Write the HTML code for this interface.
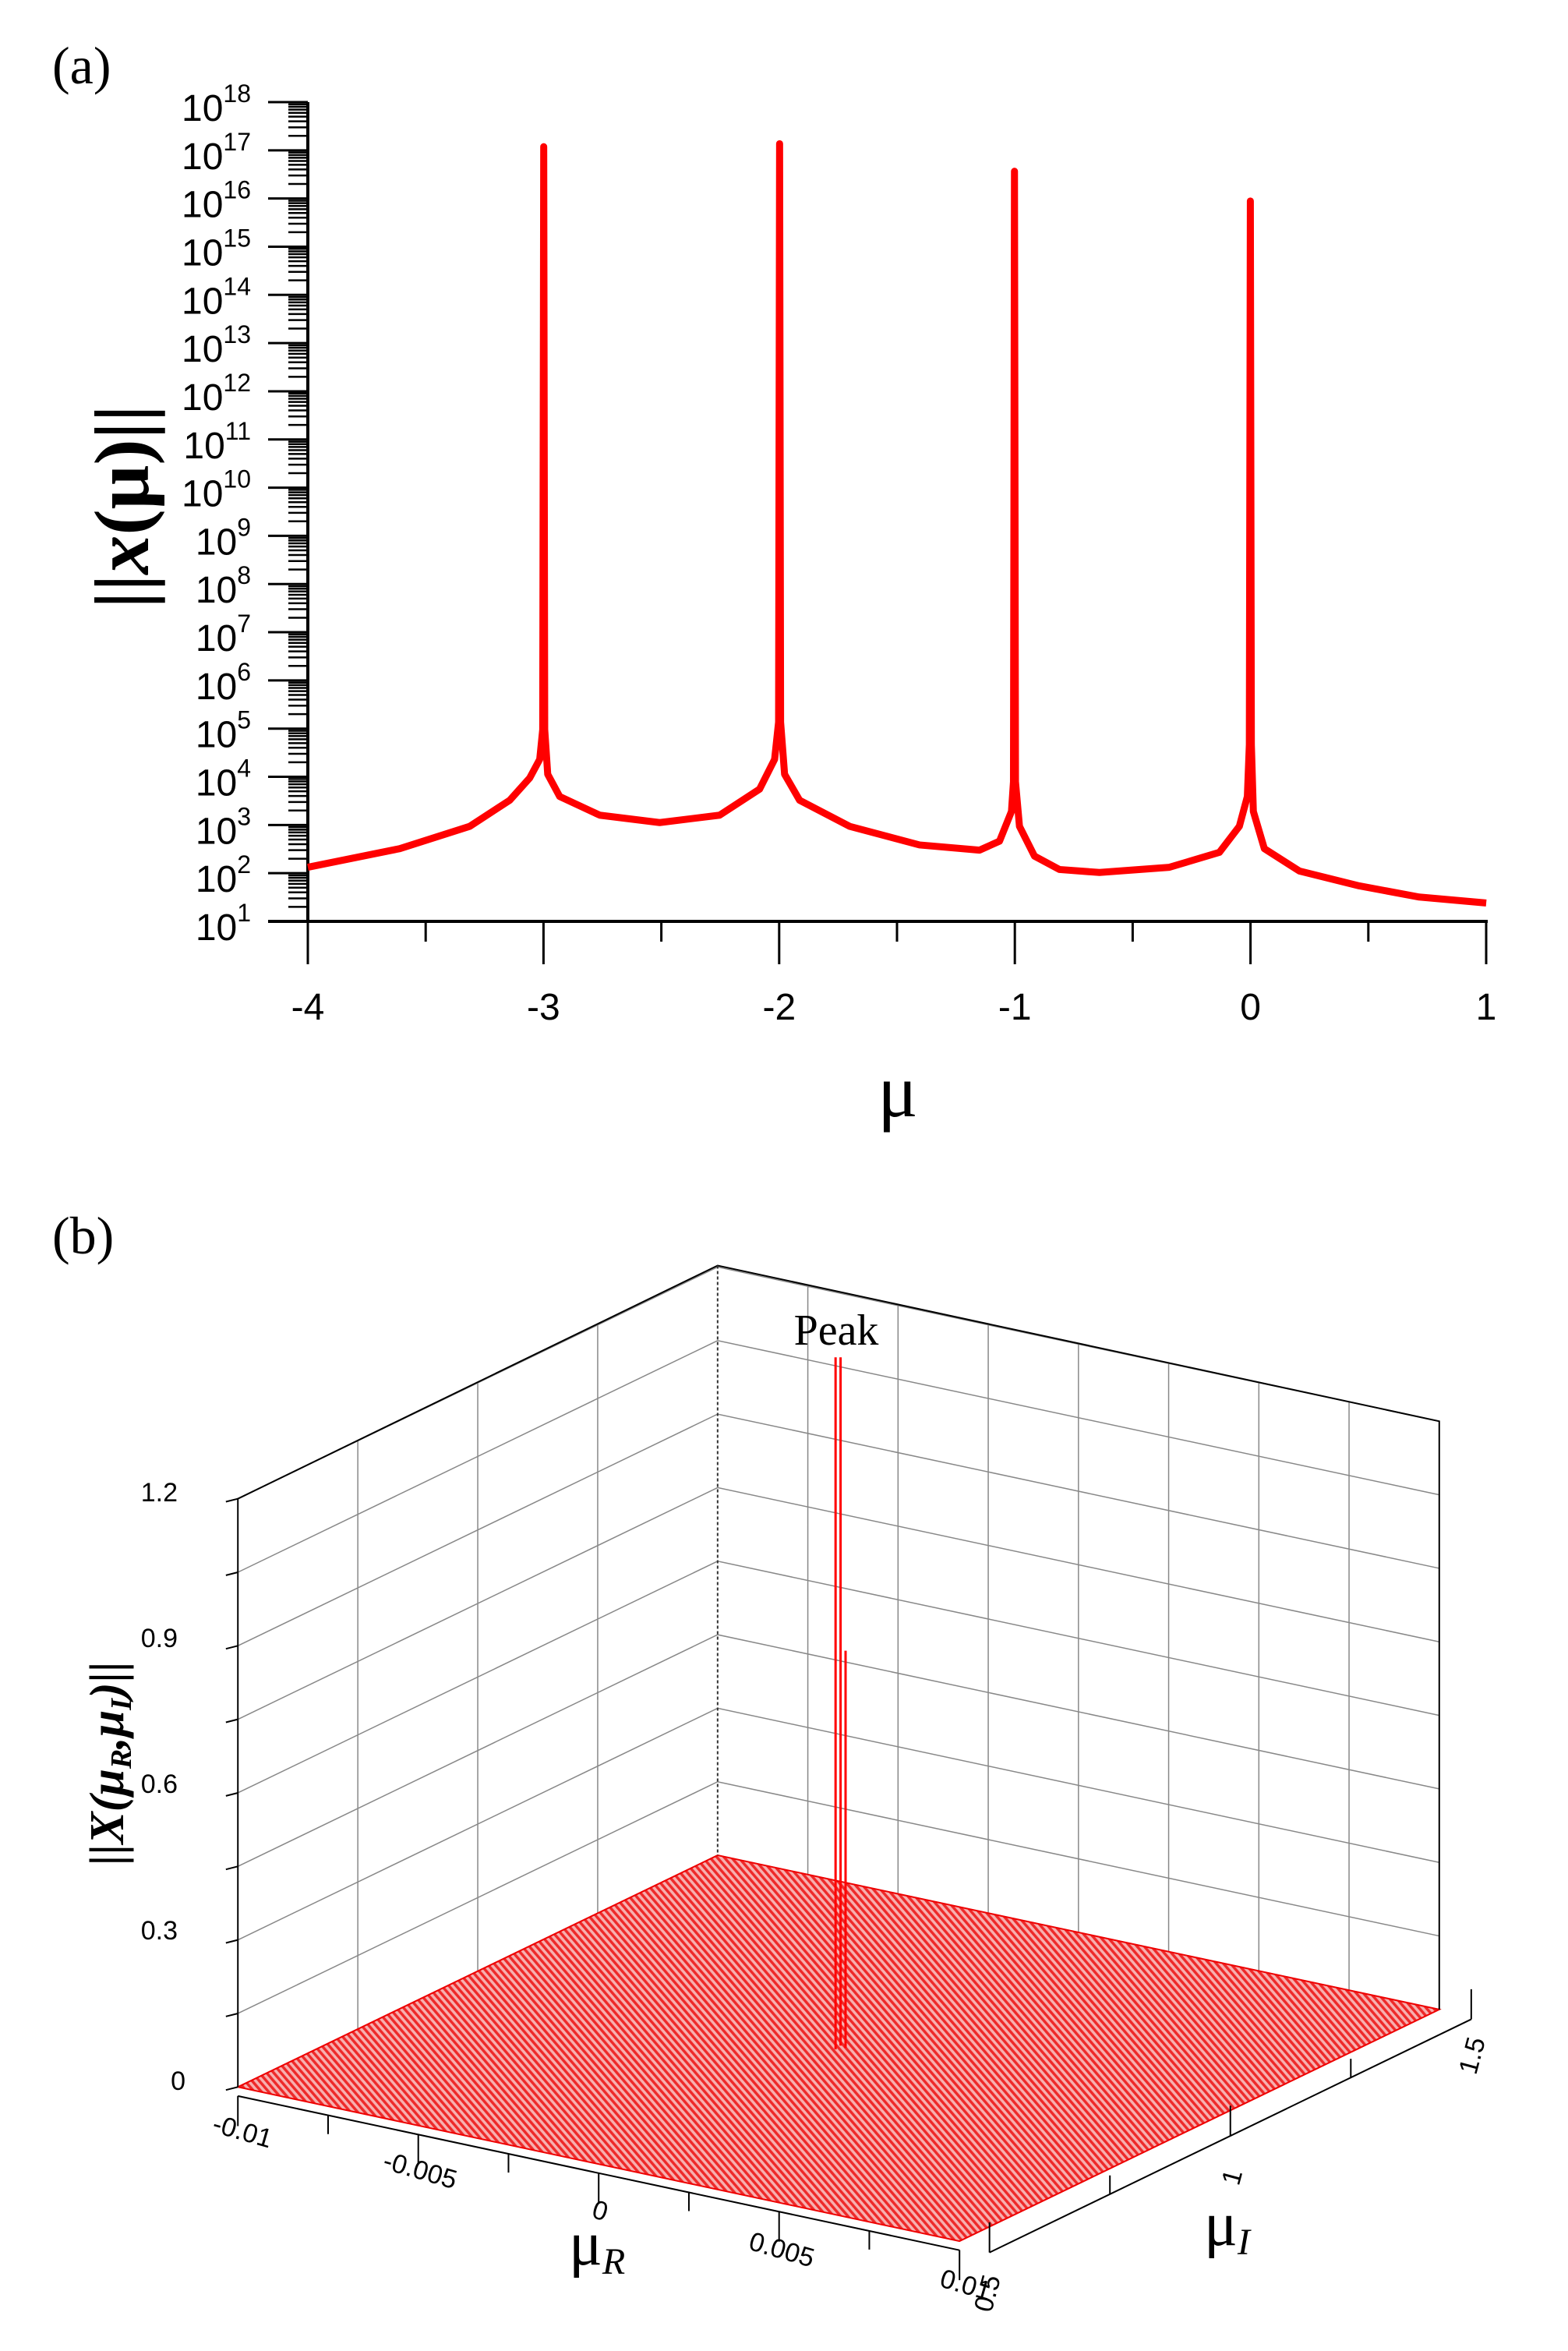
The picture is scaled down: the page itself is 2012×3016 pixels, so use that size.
<!DOCTYPE html>
<html><head><meta charset="utf-8"><style>
html,body{margin:0;padding:0;background:#fff;}
svg{display:block;}
text{font-family:"Liberation Sans",Arial,sans-serif;}
.serif{font-family:"Liberation Serif","Times New Roman",serif;}
</style></head><body>
<svg id="s" width="2012" height="3016" viewBox="0 0 2012 3016" xmlns="http://www.w3.org/2000/svg">
<defs>
<pattern id="mesh" width="6" height="6" patternUnits="userSpaceOnUse" patternTransform="rotate(-33)">
<rect width="6" height="6" fill="#f7b0b0"/>
<rect width="3" height="6" fill="#ee2a2a"/>
</pattern>
</defs>
<!-- Panel a -->
<text x="67" y="107" class="serif" font-size="68">(a)</text>
<g id="axa" stroke="#000" stroke-width="4" fill="none">
<line x1="395" y1="131" x2="395" y2="1184"/>
<line x1="344" y1="1182" x2="1909" y2="1182"/>
</g>
<g id="ticksa" stroke="#000" stroke-width="3" fill="none"></g>
<g id="labsa" font-size="48" fill="#000"></g>
<text transform="translate(190,650) rotate(-90)" text-anchor="middle" class="serif" font-size="100" font-weight="bold">||<tspan font-style="italic">x</tspan>(μ)||</text>
<text x="1152" y="1432" text-anchor="middle" class="serif" font-size="96">μ</text>
<g transform="scale(1.2825,0.955)">
<path fill="none" stroke="#ff0000" stroke-width="9" vector-effect="non-scaling-stroke" stroke-linejoin="round"
d="M308,1165 L400,1140 L470,1110 L510,1075 L530,1045 L540,1020 L543,980 L544,197 L545,980 L548,1040 L560,1070 L600,1095 L660,1105 L720,1095 L760,1060 L775,1020 L779,970 L780,193 L781,970 L785,1040 L800,1075 L850,1110 L920,1135 L980,1142 L1000,1130 L1012,1090 L1014,1050 L1015,230 L1016,1050 L1020,1110 L1035,1150 L1060,1168 L1100,1172 L1170,1165 L1220,1145 L1240,1110 L1248,1070 L1250,1000 L1251,270 L1252,1000 L1254,1090 L1265,1140 L1300,1170 L1360,1190 L1420,1205 L1487,1213"/>
</g>
<!-- Panel b -->
<text x="67" y="1608" class="serif" font-size="68">(b)</text>
<g transform="translate(0,1500) scale(1.2825,0.965)">
<g id="grid" stroke="#888" stroke-width="1.5" fill="none"></g>
<polygon points="238,1220 718,912 1440,1117 960,1425" fill="url(#mesh)" stroke="#e00" stroke-width="2" vector-effect="non-scaling-stroke"/>
<g stroke="#000" stroke-width="2" fill="none">
<path vector-effect="non-scaling-stroke" d="M238,1220 L238,438 L718,128 L1440,335 L1440,1117"/>
<path vector-effect="non-scaling-stroke" d="M718,128 L718,912" stroke="#333" stroke-dasharray="4,3"/>
<path vector-effect="non-scaling-stroke" d="M238,1232 L960,1437 M990,1440 L1472,1130"/>
<path id="tkb" vector-effect="non-scaling-stroke" d=""/>
</g>
<path vector-effect="non-scaling-stroke" d="M836,250 L836,1170 M841,250 L841,1165 M846,640 L846,1168" stroke="#ff0000" stroke-width="3" fill="none"/>
</g>
<g font-size="34" fill="#000">
<text x="228" y="1926" text-anchor="end">1.2</text>
<text x="228" y="2113" text-anchor="end">0.9</text>
<text x="228" y="2300" text-anchor="end">0.6</text>
<text x="228" y="2488" text-anchor="end">0.3</text>
<text x="238" y="2681" text-anchor="end">0</text>
<text transform="translate(308,2745) rotate(16)" text-anchor="middle">-0.01</text>
<text transform="translate(536,2795) rotate(16)" text-anchor="middle">-0.005</text>
<text transform="translate(767,2847) rotate(16)" text-anchor="middle">0</text>
<text transform="translate(1000,2897) rotate(16)" text-anchor="middle">0.005</text>
<text transform="translate(1236,2942) rotate(16)" text-anchor="middle">0.01</text>
<text transform="translate(1900,2640) rotate(-75)" text-anchor="middle">1.5</text>
<text transform="translate(1592,2796) rotate(-75)" text-anchor="middle">1</text>
<text transform="translate(1278,2945) rotate(-75)" text-anchor="middle">0.5</text>
</g>
<text x="1073" y="1725" text-anchor="middle" class="serif" font-size="56">Peak</text>
<text x="730" y="2905" class="serif" font-size="80">μ<tspan font-size="48" font-style="italic" dy="12">R</tspan></text>
<text x="1545" y="2880" class="serif" font-size="80">μ<tspan font-size="48" font-style="italic" dy="12">I</tspan></text>
<text transform="translate(158,2262) rotate(-90)" text-anchor="middle" class="serif" font-size="62" font-weight="bold" font-style="italic">||X(μ<tspan font-size="38" dy="10">R</tspan><tspan dy="-10">,μ</tspan><tspan font-size="38" dy="10">I</tspan><tspan dy="-10">)||</tspan></text>
</svg>
<script>
(function(){
var NS="http://www.w3.org/2000/svg";
function el(p,t,a,txt){var e=document.createElementNS(NS,t);for(var k in a)e.setAttribute(k,a[k]);if(txt!==undefined)e.textContent=txt;p.appendChild(e);return e;}
var tk=document.getElementById('ticksa'),lb=document.getElementById('labsa');
var yTop=131,yBot=1182,dec=(yBot-yTop)/17;
for(var d=1;d<=18;d++){var y=yBot-(d-1)*dec;
 el(tk,'line',{x1:344,y1:y,x2:395,y2:y});
 var t=el(lb,'text',{x:322,y:y+24,'text-anchor':'end'});
 el(t,'tspan',{},'10');
 el(t,'tspan',{'font-size':'32',dy:'-24'},String(d));
 if(d<18){for(var m=2;m<=9;m++){var yy=y-Math.log10(m)*dec;el(tk,'line',{x1:370,y1:yy,x2:395,y2:yy,'stroke-width':2.5});}}
}
for(var i=0;i<=10;i++){var x=395+i*151.2;el(tk,'line',{x1:x,y1:1182,x2:x,y2:(i%2==0)?1237:1208});
 if(i%2==0){el(lb,'text',{x:x,y:1308,'text-anchor':'middle'},String(-4+i/2));}}
var g=document.getElementById('grid');var dd='';
for(var k=0;k<=8;k++){var y=1220-k*97.75;dd+='M238,'+y+' L718,'+(y-308)+' L1440,'+(y-308+205)+' ';}
for(var k=1;k<4;k++){var x=238+k*120;var yb=1220-k*77;dd+='M'+x+','+yb+' L'+x+','+(yb-782)+' ';}
for(var k=1;k<8;k++){var x=718+k*90.25;var yb=912+k*25.6;dd+='M'+x+','+yb+' L'+x+','+(yb-782)+' ';}
el(g,'path',{d:dd,'vector-effect':'non-scaling-stroke'});
var tb='';
for(var k=0;k<=8;k++){var x=238+k*90.25,y=1232+k*25.6;tb+='M'+x+','+y+' L'+x+','+(y+(k%2==0?40:25))+' ';}
for(var k=0;k<=4;k++){var x=990+k*120.5,y=1440-k*77.5;tb+='M'+x+','+y+' L'+x+','+(y+(k%2==0?-40:-25))+' ';}
for(var k=0;k<=8;k++){var y=1220-k*97.75;tb+='M226,'+(y+4)+' L238,'+y+' ';}
document.getElementById('tkb').setAttribute('d',tb);
})();
</script>
</body></html>
